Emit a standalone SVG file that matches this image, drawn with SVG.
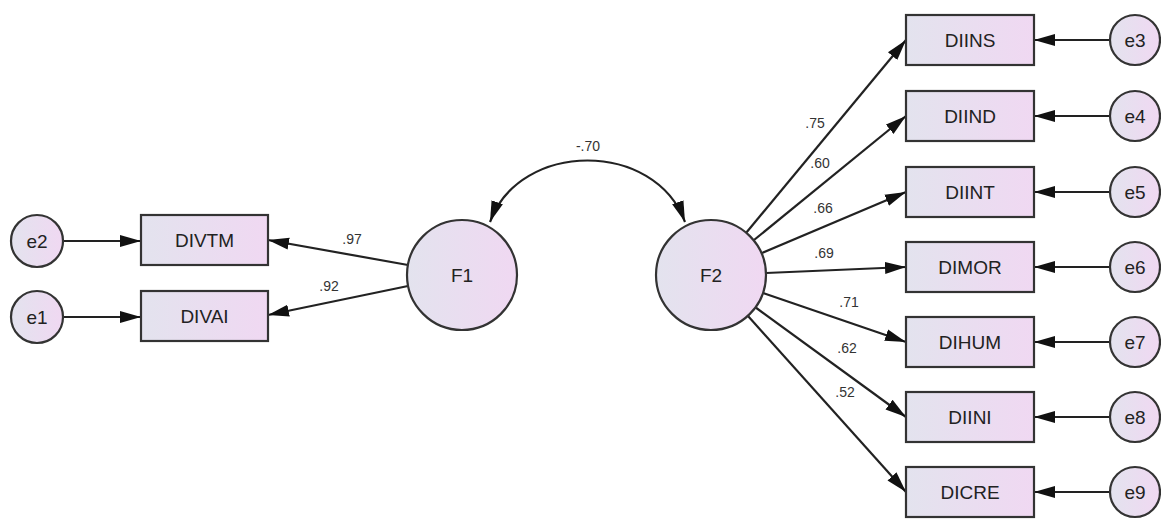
<svg xmlns="http://www.w3.org/2000/svg" width="1161" height="519" viewBox="0 0 1161 519">
<defs>
<linearGradient id="g" x1="0" y1="0" x2="1" y2="0">
<stop offset="0" stop-color="#e3e3ee"/>
<stop offset="1" stop-color="#f0d8f2"/>
</linearGradient>
<marker id="ah" markerUnits="userSpaceOnUse" markerWidth="22" markerHeight="14" refX="21" refY="7" orient="auto-start-reverse">
<path d="M0,1 L21,7 L0,13 z" fill="#111"/>
</marker>
</defs>
<style>
.n{fill:url(#g);stroke:#333;stroke-width:2.2}
.t{font-family:"Liberation Sans",Arial,sans-serif;font-size:19px;fill:#222;text-anchor:middle}
.l{font-family:"Liberation Sans",Arial,sans-serif;font-size:14px;fill:#333;text-anchor:middle}
.c{fill:none;stroke:#222;stroke-width:2.2;marker-end:url(#ah)}
</style>
<g id="connectors">
<line class="c" x1="408" y1="265" x2="268" y2="240"/>
<line class="c" x1="408" y1="286" x2="268" y2="315"/>
<path class="c" d="M490,222 C520,140 655,140 685,222" marker-start="url(#ah)"/>
<line class="c" x1="746" y1="233" x2="906" y2="40"/>
<line class="c" x1="754" y1="240" x2="906" y2="116"/>
<line class="c" x1="762" y1="253" x2="906" y2="192"/>
<line class="c" x1="766" y1="273" x2="906" y2="267"/>
<line class="c" x1="763" y1="293" x2="906" y2="342"/>
<line class="c" x1="755" y1="307" x2="906" y2="417"/>
<line class="c" x1="748" y1="316" x2="906" y2="492"/>
<line class="c" x1="63" y1="241" x2="141" y2="241"/>
<line class="c" x1="63" y1="317" x2="141" y2="317"/>
<line class="c" x1="1110" y1="40" x2="1034" y2="40"/>
<line class="c" x1="1110" y1="116" x2="1034" y2="116"/>
<line class="c" x1="1110" y1="192" x2="1034" y2="192"/>
<line class="c" x1="1110" y1="267" x2="1034" y2="267"/>
<line class="c" x1="1110" y1="342" x2="1034" y2="342"/>
<line class="c" x1="1110" y1="417" x2="1034" y2="417"/>
<line class="c" x1="1110" y1="492" x2="1034" y2="492"/>
</g>
<g id="labels">
<text class="l" x="352" y="244">.97</text>
<text class="l" x="329" y="291">.92</text>
<text class="l" x="588" y="151">-.70</text>
<text class="l" x="815" y="128">.75</text>
<text class="l" x="820" y="168">.60</text>
<text class="l" x="823" y="213">.66</text>
<text class="l" x="824" y="258">.69</text>
<text class="l" x="849" y="307">.71</text>
<text class="l" x="847" y="353">.62</text>
<text class="l" x="845" y="397">.52</text>
</g>
<g id="e2"><circle class="n" cx="37" cy="241" r="26"/><text class="t" x="37" y="248">e2</text></g>
<g id="e1"><circle class="n" cx="37" cy="317" r="26"/><text class="t" x="37" y="324">e1</text></g>
<g id="DIVTM"><rect class="n" x="141" y="215" width="127" height="50"/><text class="t" x="204.5" y="247">DIVTM</text></g>
<g id="DIVAI"><rect class="n" x="141" y="291" width="127" height="50"/><text class="t" x="204.5" y="323">DIVAI</text></g>
<g id="F1"><circle class="n" cx="462" cy="275" r="55"/><text class="t" x="462" y="282">F1</text></g>
<g id="F2"><circle class="n" cx="711" cy="275" r="55"/><text class="t" x="711" y="282">F2</text></g>
<g id="DIINS"><rect class="n" x="906" y="15" width="128" height="50"/><text class="t" x="970" y="47">DIINS</text></g>
<g id="DIIND"><rect class="n" x="906" y="91" width="128" height="50"/><text class="t" x="970" y="123">DIIND</text></g>
<g id="DIINT"><rect class="n" x="906" y="167" width="128" height="50"/><text class="t" x="970" y="199">DIINT</text></g>
<g id="DIMOR"><rect class="n" x="906" y="242" width="128" height="50"/><text class="t" x="970" y="274">DIMOR</text></g>
<g id="DIHUM"><rect class="n" x="906" y="317" width="128" height="50"/><text class="t" x="970" y="349">DIHUM</text></g>
<g id="DIINI"><rect class="n" x="906" y="392" width="128" height="50"/><text class="t" x="970" y="424">DIINI</text></g>
<g id="DICRE"><rect class="n" x="906" y="467" width="128" height="50"/><text class="t" x="970" y="499">DICRE</text></g>
<g id="e3"><circle class="n" cx="1135" cy="40" r="25"/><text class="t" x="1135" y="47">e3</text></g>
<g id="e4"><circle class="n" cx="1135" cy="116" r="25"/><text class="t" x="1135" y="123">e4</text></g>
<g id="e5"><circle class="n" cx="1135" cy="192" r="25"/><text class="t" x="1135" y="199">e5</text></g>
<g id="e6"><circle class="n" cx="1135" cy="267" r="25"/><text class="t" x="1135" y="274">e6</text></g>
<g id="e7"><circle class="n" cx="1135" cy="342" r="25"/><text class="t" x="1135" y="349">e7</text></g>
<g id="e8"><circle class="n" cx="1135" cy="417" r="25"/><text class="t" x="1135" y="424">e8</text></g>
<g id="e9"><circle class="n" cx="1135" cy="492" r="25"/><text class="t" x="1135" y="499">e9</text></g>
</svg>
